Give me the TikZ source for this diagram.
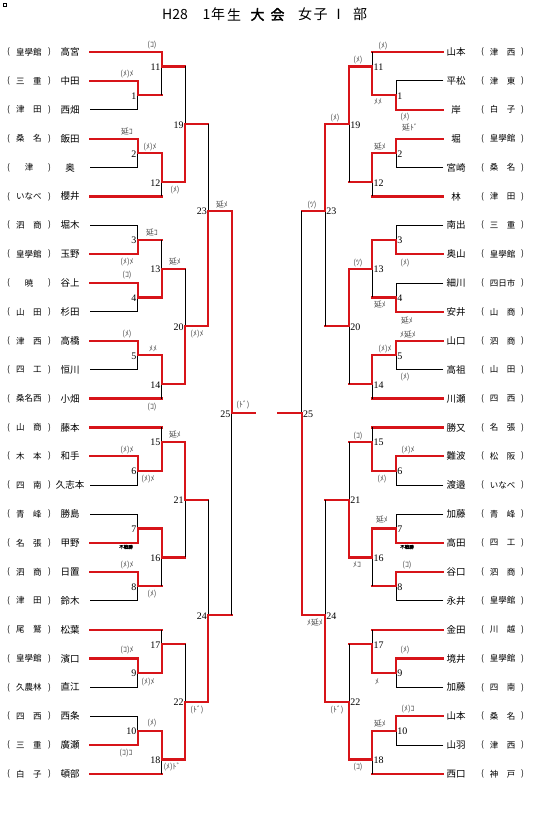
\documentclass[tikz,border=0pt]{standalone}
\usepackage{fontspec}
\setmainfont{Liberation Serif}
\newfontfamily\jp{Noto Sans CJK JP}
\newfontfamily\jpb[FakeBold=2]{Noto Sans CJK JP}
\definecolor{wred}{RGB}{215,20,25}
\pgfmathdeclarefunction{ry}{1}{\pgfmathparse{52+28.88*#1}}
\tikzset{
  win/.style={draw=wred, line width=2.2pt, line cap=rect},
  lose/.style={draw=black, line width=0.9pt},
  nm/.style={font=\jp\fontsize{9.5}{10}\selectfont, inner sep=0},
  sc/.style={font=\jp\fontsize{8.5}{9}\selectfont, inner sep=0},
  num/.style={font=\fontsize{10}{10}\selectfont, inner sep=0},
  res/.style={font=\jp\fontsize{7.8}{8}\selectfont, inner sep=0, text=black!70},
  tiny/.style={font=\jpb\fontsize{4.5}{5}\selectfont, inner sep=0},
  ttl/.style={font=\jp\fontsize{14}{14}\selectfont, inner sep=0},
  ttlb/.style={font=\jpb\fontsize{14}{14}\selectfont, inner sep=0},
}
% left entrant: idx, school, name, end x, style
\newcommand{\entL}[5]{%
  \coordinate (Ls#1) at (90,{ry(#1)});
  \coordinate (Le#1) at (#4,{ry(#1)});
  \node[nm] (Ln#1) at (70,{ry(#1)}) {#3};
  \node[sc] (Lo#1) at (8.5,{ry(#1)}) {(};
  \node[sc] (Lk#1) at (29,{ry(#1)}) {#2};
  \node[sc] (Lc#1) at (49.5,{ry(#1)}) {)};
  \draw[#5] (Ls#1) -- (Le#1);
}
\newcommand{\entR}[5]{%
  \coordinate (Rs#1) at (443.3,{ry(#1)});
  \coordinate (Re#1) at (#4,{ry(#1)});
  \node[nm] (Rn#1) at (456,{ry(#1)}) {#3};
  \node[sc] (Ro#1) at (482.5,{ry(#1)}) {(};
  \node[sc] (Rk#1) at (502.5,{ry(#1)}) {#2};
  \node[sc] (Rc#1) at (522.5,{ry(#1)}) {)};
  \draw[#5] (Rs#1) -- (Re#1);
}
% match: name, x, top r, bottom r, out r, winner t/b, out end x, number, side
\newcommand{\mt}[9]{%
  \coordinate (#1) at (#2,{ry(#5)});
  \coordinate (#1T) at (#2,{ry(#3)});
  \coordinate (#1B) at (#2,{ry(#4)});
  \coordinate (#1E) at (#7,{ry(#5)});
  \if#6t \draw[lose] (#1B) -- (#1); \draw[win] (#1T) -- (#1);
  \else \draw[lose] (#1T) -- (#1); \draw[win] (#1B) -- (#1); \fi
  \draw[win] (#1) -- (#1E);
  \if#9L \node[num,anchor=east] (#1n) at ([xshift=-1.2pt,yshift=-0.8pt]#1) {#8};
  \else \node[num,anchor=west] (#1n) at ([xshift=1.2pt,yshift=-0.8pt]#1) {#8}; \fi
}
\newcommand{\lab}[4]{\node[res] (#1) at (#2,#3) {#4};}
\begin{document}
\begin{tikzpicture}[x=1pt,y=-1pt]
\useasboundingbox (0,0) rectangle (543,817);
\fill[white] (0,0) rectangle (543,817);
\node[draw, line width=0.5pt, minimum size=3pt, inner sep=0] (sq) at (4.5,4.5) {};
% title
\node[ttl, anchor=west] (tH) at (162,14.5) {H28};
\node[ttl] (t1) at (206.5,14.5) {1};
\node[ttl] (t2) at (218,14.5) {年};
\node[ttl] (t3) at (234,14.5) {生};
\node[ttlb] (t4) at (257.5,14.5) {大};
\node[ttlb] (t5) at (277.5,14.5) {会};
\node[ttl] (t6) at (305,14.5) {女};
\node[ttl] (t7) at (320.5,14.5) {子};
\node[ttl] (t8) at (338.5,14.5) {Ⅰ};
\node[ttl] (t9) at (360,14.5) {部};
% left entrants
\entL{0}{皇學館}{高宮}{161.7}{win}
\entL{1}{三　重}{中田}{137.7}{win}
\entL{2}{津　田}{西畑}{137.7}{lose}
\entL{3}{桑　名}{飯田}{137.7}{win}
\entL{4}{津}{奥}{137.7}{lose}
\entL{5}{いなべ}{櫻井}{161.7}{win}
\entL{6}{泗　商}{堀木}{137.7}{lose}
\entL{7}{皇學館}{玉野}{137.7}{win}
\entL{8}{暁}{谷上}{137.7}{win}
\entL{9}{山　田}{杉田}{137.7}{lose}
\entL{10}{津　西}{高橋}{137.7}{win}
\entL{11}{四　工}{恒川}{137.7}{lose}
\entL{12}{桑名西}{小畑}{161.7}{win}
\entL{13}{山　商}{藤本}{161.7}{win}
\entL{14}{木　本}{和手}{137.7}{win}
\entL{15}{四　南}{久志本}{137.7}{lose}
\entL{16}{青　峰}{勝島}{137.7}{lose}
\entL{17}{名　張}{甲野}{137.7}{win}
\entL{18}{泗　商}{日置}{137.7}{win}
\entL{19}{津　田}{鈴木}{137.7}{lose}
\entL{20}{尾　鷲}{松葉}{161.7}{win}
\entL{21}{皇學館}{濱口}{137.7}{win}
\entL{22}{久農林}{直江}{137.7}{lose}
\entL{23}{四　西}{西条}{137.7}{lose}
\entL{24}{三　重}{廣瀬}{137.7}{win}
\entL{25}{白　子}{頓部}{161.7}{win}
% right entrants
\entR{0}{津　西}{山本}{372.3}{win}
\entR{1}{津　東}{平松}{396}{lose}
\entR{2}{白　子}{岸}{396}{win}
\entR{3}{皇學館}{堀}{396}{win}
\entR{4}{桑　名}{宮崎}{396}{lose}
\entR{5}{津　田}{林}{372.3}{win}
\entR{6}{三　重}{南出}{396}{lose}
\entR{7}{皇學館}{奥山}{396}{win}
\entR{8}{四日市}{細川}{396}{lose}
\entR{9}{山　商}{安井}{396}{win}
\entR{10}{泗　商}{山口}{396}{win}
\entR{11}{山　田}{高祖}{396}{lose}
\entR{12}{四　西}{川瀬}{372.3}{win}
\entR{13}{名　張}{勝又}{372.3}{win}
\entR{14}{松　阪}{難波}{396}{win}
\entR{15}{いなべ}{渡邉}{396}{lose}
\entR{16}{青　峰}{加藤}{396}{lose}
\entR{17}{四　工}{高田}{396}{win}
\entR{18}{泗　商}{谷口}{396}{win}
\entR{19}{皇學館}{永井}{396}{lose}
\entR{20}{川　越}{金田}{372.3}{win}
\entR{21}{皇學館}{境井}{396}{win}
\entR{22}{四　南}{加藤}{396}{lose}
\entR{23}{桑　名}{山本}{396}{win}
\entR{24}{津　西}{山羽}{396}{lose}
\entR{25}{神　戸}{西口}{372.3}{win}
% left matches
\mt{LM1}{137.7}{1}{2}{1.5}{t}{161.7}{1}{L}
\mt{LM2}{137.7}{3}{4}{3.5}{t}{161.7}{2}{L}
\mt{LM3}{137.7}{6}{7}{6.5}{b}{161.7}{3}{L}
\mt{LM4}{137.7}{8}{9}{8.5}{t}{161.7}{4}{L}
\mt{LM5}{137.7}{10}{11}{10.5}{t}{161.7}{5}{L}
\mt{LM6}{137.7}{14}{15}{14.5}{t}{161.7}{6}{L}
\mt{LM7}{137.7}{16}{17}{16.5}{b}{161.7}{7}{L}
\mt{LM8}{137.7}{18}{19}{18.5}{t}{161.7}{8}{L}
\mt{LM9}{137.7}{21}{22}{21.5}{t}{161.7}{9}{L}
\mt{LM10}{137.7}{23}{24}{23.5}{b}{161.7}{10}{L}
\mt{LM11}{161.7}{0}{1.5}{0.5}{t}{185}{11}{L}
\mt{LM12}{161.7}{3.5}{5}{4.5}{t}{185}{12}{L}
\mt{LM13}{161.7}{6.5}{8.5}{7.5}{b}{185}{13}{L}
\mt{LM14}{161.7}{10.5}{12}{11.5}{t}{185}{14}{L}
\mt{LM15}{161.7}{13}{14.5}{13.5}{b}{185}{15}{L}
\mt{LM16}{161.7}{16.5}{18.5}{17.5}{t}{185}{16}{L}
\mt{LM17}{161.7}{20}{21.5}{20.5}{b}{185}{17}{L}
\mt{LM18}{161.7}{23.5}{25}{24.5}{t}{185}{18}{L}
\mt{LM19}{185}{0.5}{4.5}{2.5}{b}{208.3}{19}{L}
\mt{LM20}{185}{7.5}{11.5}{9.5}{b}{208.3}{20}{L}
\mt{LM21}{185}{13.5}{17.5}{15.5}{t}{208.3}{21}{L}
\mt{LM22}{185}{20.5}{24.5}{22.5}{b}{208.3}{22}{L}
\mt{LM23}{208.3}{2.5}{9.5}{5.5}{b}{231.7}{23}{L}
\mt{LM24}{208.3}{15.5}{22.5}{19.5}{b}{231.7}{24}{L}
\mt{LM25}{231.7}{5.5}{19.5}{12.5}{t}{255}{25}{L}
% right matches
\mt{RM1}{396}{1}{2}{1.5}{b}{372.3}{1}{R}
\mt{RM2}{396}{3}{4}{3.5}{t}{372.3}{2}{R}
\mt{RM3}{396}{6}{7}{6.5}{b}{372.3}{3}{R}
\mt{RM4}{396}{8}{9}{8.5}{b}{372.3}{4}{R}
\mt{RM5}{396}{10}{11}{10.5}{t}{372.3}{5}{R}
\mt{RM6}{396}{14}{15}{14.5}{t}{372.3}{6}{R}
\mt{RM7}{396}{16}{17}{16.5}{b}{372.3}{7}{R}
\mt{RM8}{396}{18}{19}{18.5}{t}{372.3}{8}{R}
\mt{RM9}{396}{21}{22}{21.5}{t}{372.3}{9}{R}
\mt{RM10}{396}{23}{24}{23.5}{t}{372.3}{10}{R}
\mt{RM11}{372.3}{0}{1.5}{0.5}{b}{349}{11}{R}
\mt{RM12}{372.3}{3.5}{5}{4.5}{t}{349}{12}{R}
\mt{RM13}{372.3}{6.5}{8.5}{7.5}{t}{349}{13}{R}
\mt{RM14}{372.3}{10.5}{12}{11.5}{t}{349}{14}{R}
\mt{RM15}{372.3}{13}{14.5}{13.5}{b}{349}{15}{R}
\mt{RM16}{372.3}{16.5}{18.5}{17.5}{t}{349}{16}{R}
\mt{RM17}{372.3}{20}{21.5}{20.5}{b}{349}{17}{R}
\mt{RM18}{372.3}{23.5}{25}{24.5}{t}{349}{18}{R}
\mt{RM19}{349}{0.5}{4.5}{2.5}{t}{325}{19}{R}
\mt{RM20}{349}{7.5}{11.5}{9.5}{t}{325}{20}{R}
\mt{RM21}{349}{13.5}{17.5}{15.5}{b}{325}{21}{R}
\mt{RM22}{349}{20.5}{24.5}{22.5}{b}{325}{22}{R}
\mt{RM23}{325}{2.5}{9.5}{5.5}{t}{301.7}{23}{R}
\mt{RM24}{325}{15.5}{22.5}{19.5}{b}{301.7}{24}{R}
\mt{RM25}{301.7}{5.5}{19.5}{12.5}{b}{278.3}{25}{R}
% left result labels
\lab{a1}{152}{45}{(ｺ)}
\lab{a2}{127}{74}{(ﾒ)ﾒ}
\lab{a3}{127}{132}{延ｺ}
\lab{a4}{150}{147}{(ﾒ)ﾒ}
\lab{a5}{175}{190}{(ﾒ)}
\lab{a6}{222}{205}{延ﾒ}
\lab{a7}{152}{233}{延ｺ}
\lab{a8}{127}{262}{(ﾒ)ﾒ}
\lab{a9}{175}{262}{延ﾒ}
\lab{a10}{127}{275}{(ｺ)}
\lab{a11}{197}{334}{(ﾒ)ﾒ}
\lab{a12}{127}{334}{(ﾒ)}
\lab{a13}{153}{349}{ﾒﾒ}
\lab{a14}{152}{407}{(ｺ)}
\lab{a15}{243}{405}{(ﾄﾞ)}
\lab{a16}{175}{435}{延ﾒ}
\lab{a17}{127}{450}{(ﾒ)ﾒ}
\lab{a18}{148}{479}{(ﾒ)ﾒ}
\node[tiny] (a19) at (126,547) {不戦勝};
\lab{a20}{127}{565}{(ﾒ)ﾒ}
\lab{a21}{152}{594}{(ﾒ)}
\lab{a22}{127}{650}{(ｺ)ﾒ}
\lab{a23}{148}{682}{(ﾒ)ﾒ}
\lab{a24}{197}{710}{(ﾄﾞ)}
\lab{a25}{152}{723}{(ﾒ)}
\lab{a26}{126}{753}{(ｺ)ｺ}
\lab{a27}{172}{767}{(ﾒ)ﾄﾞ}
% right result labels
\lab{b1}{383}{46}{(ﾒ)}
\lab{b2}{358}{60}{(ﾒ)}
\lab{b3}{378}{102}{ﾒﾒ}
\lab{b4}{335}{118}{(ﾒ)}
\lab{b5}{405}{117}{(ﾒ)}
\lab{b6}{410}{128}{延ﾄﾞ}
\lab{b7}{380}{147}{延ﾒ}
\lab{b8}{312}{205}{(ﾂ)}
\lab{b9}{358}{263}{(ﾂ)}
\lab{b10}{405}{263}{(ﾒ)}
\lab{b11}{380}{305}{延ﾒ}
\lab{b12}{407}{321}{延ﾒ}
\lab{b13}{408}{335}{ﾒ延ﾒ}
\lab{b14}{385}{349}{(ﾒ)ﾒ}
\lab{b15}{405}{377}{(ﾒ)}
\lab{b16}{358}{436}{(ｺ)}
\lab{b17}{408}{450}{(ﾒ)ﾒ}
\lab{b18}{382}{479}{(ﾒ)}
\lab{b19}{382}{520}{延ﾒ}
\node[tiny] (b20) at (407,547) {不戦勝};
\lab{b21}{357}{565}{ﾒｺ}
\lab{b22}{407}{565}{(ｺ)}
\lab{b23}{315}{623}{ﾒ延ﾒ}
\lab{b24}{405}{650}{(ﾒ)}
\lab{b25}{377}{682}{ﾒ}
\lab{b26}{337}{710}{(ﾄﾞ)}
\lab{b27}{408}{709}{(ﾒ)ｺ}
\lab{b28}{380}{724}{延ﾒ}
\lab{b29}{358}{767}{(ｺ)}
\end{tikzpicture}
\end{document}
